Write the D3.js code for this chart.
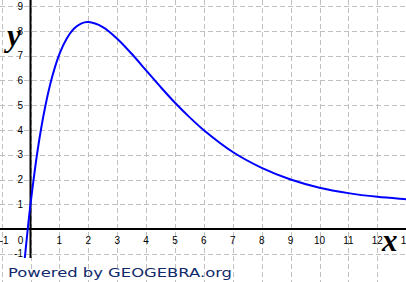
<!DOCTYPE html>
<html><head><meta charset="utf-8">
<script src="https://cdn.jsdelivr.net/npm/d3@7"></script>
<style>html,body{margin:0;padding:0;background:#fff;}svg{display:block;}</style>
</head><body>
<script>
// Data
const curveX = [-0.2, -0.1, 0, 0.25, 0.5, 0.75, 1, 1.25, 1.5, 1.75, 2, 2.5, 3, 3.5, 4, 4.5, 5, 5.5, 6, 7, 8, 9, 10, 11, 12, 13, 13.2];
const curveY = [-1.21, -0.05, 1.0, 3.21, 4.89, 6.15, 7.07, 7.69, 8.09, 8.30, 8.36, 8.16, 7.69, 7.08, 6.41, 5.74, 5.10, 4.52, 3.99, 3.11, 2.47, 2.00, 1.67, 1.45, 1.30, 1.20, 1.18];
const xTicks = [1, 2, 3, 4, 5, 6, 7, 8, 9, 10, 11, 12, 13];
const yTicks = [-1, 1, 2, 3, 4, 5, 6, 7, 8, 9];
const xGrid = [-1, 0, 1, 2, 3, 4, 5, 6, 7, 8, 9, 10, 11, 12, 13];
const yGrid = [-1, 0, 1, 2, 3, 4, 5, 6, 7, 8, 9];
const footer = "Powered by GEOGEBRA.org";

const W = 406, H = 282, plotBottom = 258;
const x = d3.scaleLinear().domain([-30.5/28.9, (W-30.5)/28.9]).range([0, W]);
const y = d3.scaleLinear().domain([229/24.75, (229-H)/24.75]).range([0, H]);

const svg = d3.select("body").append("svg").attr("width", W).attr("height", H);
svg.append("rect").attr("width", W).attr("height", H).attr("fill", "#fff");
svg.append("defs").append("clipPath").attr("id","pc").append("rect")
  .attr("x",0).attr("y",0).attr("width",W).attr("height",plotBottom);

// grid
svg.append("g").selectAll("line").data(xGrid).join("line")
  .attr("x1", d => Math.round(x(d)) + 0.5).attr("x2", d => Math.round(x(d)) + 0.5)
  .attr("y1", 0).attr("y2", H)
  .attr("stroke", "#c0c0c0").attr("stroke-width", 1).attr("stroke-dasharray", "5,3");
svg.append("g").selectAll("line").data(yGrid).join("line")
  .attr("y1", d => Math.round(y(d)) + 0.5).attr("y2", d => Math.round(y(d)) + 0.5)
  .attr("x1", 0).attr("x2", W)
  .attr("stroke", "#c0c0c0").attr("stroke-width", 1).attr("stroke-dasharray", "5,3");

// axes
svg.append("line").attr("x1", 0).attr("x2", W).attr("y1", y(0)).attr("y2", y(0))
  .attr("stroke", "#000").attr("stroke-width", 2);
svg.append("line").attr("x1", x(0)).attr("x2", x(0)).attr("y1", 0).attr("y2", plotBottom)
  .attr("stroke", "#000").attr("stroke-width", 2);

// tick labels
const lab = svg.append("g").attr("font-family", "'Liberation Sans', Arial, sans-serif")
  .attr("font-size", 10).attr("fill", "#000");
lab.selectAll("text.xt").data(xTicks).join("text").attr("class","xt")
  .attr("x", d => x(d)).attr("y", y(0) + 14.5).attr("text-anchor", "middle").text(d => d);
lab.append("text").attr("x", x(-1) - 2).attr("y", y(0) + 14.5).attr("text-anchor", "start").text("-1");
lab.append("text").attr("x", x(0) - 10).attr("y", y(0) + 14.5).attr("text-anchor", "middle").text("0");
lab.selectAll("text.yt").data(yTicks).join("text").attr("class","yt")
  .attr("x", x(0) - 7.5).attr("y", d => y(d) + 3.5).attr("text-anchor", "end").text(d => d);

// curve
const pts = curveX.map((v, i) => [v, curveY[i]]);
svg.append("path").datum(pts).attr("clip-path","url(#pc)")
  .attr("d", d3.line().x(d => x(d[0])).y(d => y(d[1])).curve(d3.curveCatmullRom))
  .attr("fill", "none").attr("stroke", "#0000ff").attr("stroke-width", 2);

// axis names
svg.append("text").attr("x", 7).attr("y", 46).attr("font-family", "'Liberation Serif', 'Times New Roman', serif")
  .attr("font-style", "italic").attr("font-weight", "bold").attr("font-size", 31).text("y");
svg.append("text").attr("x", 382).attr("y", 251).attr("font-family", "'Liberation Serif', 'Times New Roman', serif")
  .attr("font-style", "italic").attr("font-weight", "bold").attr("font-size", 31).text("x");

// footer
svg.append("text").attr("x", 8).attr("y", 277)
  .attr("font-family", "'DejaVu Sans', Verdana, sans-serif").attr("font-size", 13)
  .attr("fill", "#102a6a").attr("textLength", 224).attr("lengthAdjust", "spacingAndGlyphs")
  .text(footer);
</script>
</body></html>
